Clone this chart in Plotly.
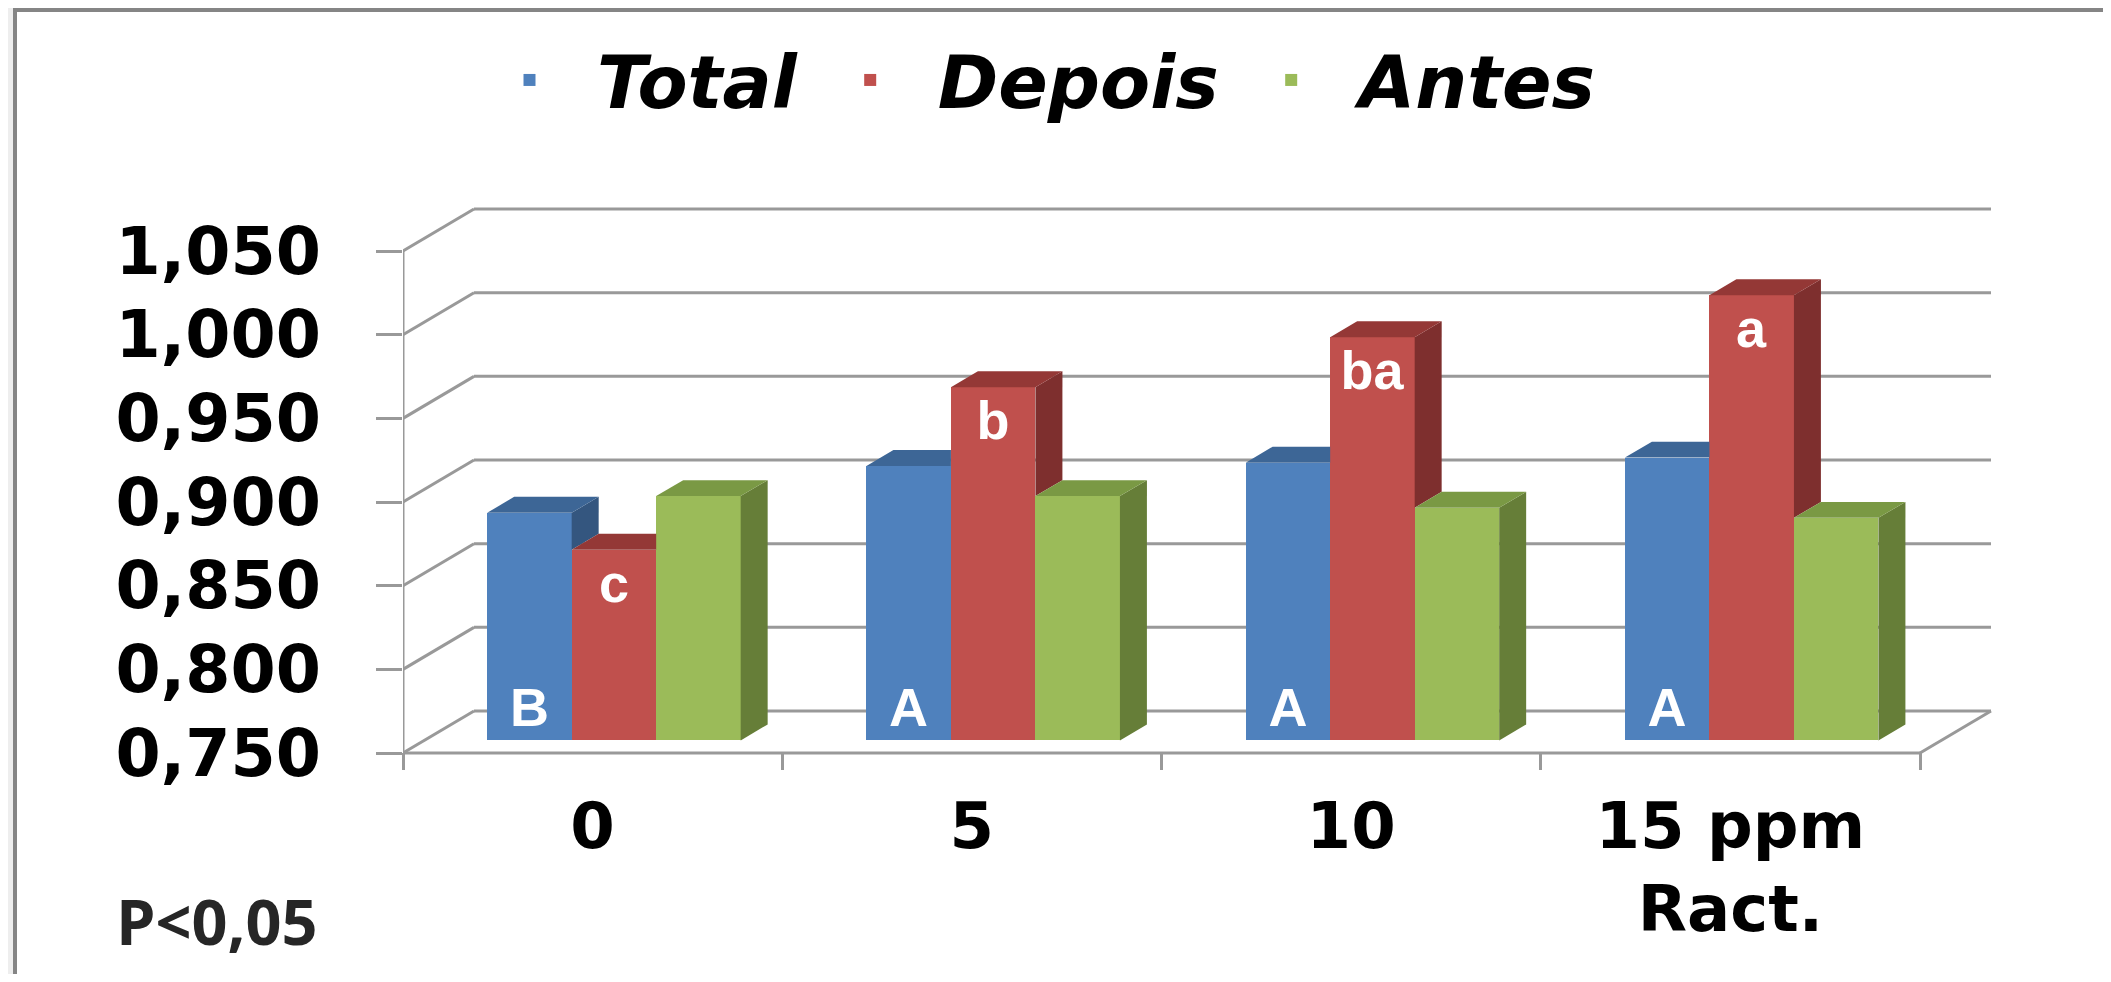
import plotly.graph_objects as go

# data (value of each bar on its front face)
categories = ['0', '5', '10', '15 ppm<br>Ract.']
series_names = ['Total', 'Depois', 'Antes']
total = [0.886, 0.914, 0.916, 0.919]
depois = [0.864, 0.961, 0.991, 1.016]
antes = [0.896, 0.896, 0.889, 0.883]
total_letters = ['B', 'A', 'A', 'A']
depois_letters = ['c', 'b', 'ba', 'a']
y_ticks = [0.75, 0.80, 0.85, 0.90, 0.95, 1.00, 1.05]
y_ticktext = ['0,750', '0,800', '0,850', '0,900', '0,950', '1,000', '1,050']

front_colors = ['#4F81BD', '#C0504D', '#9BBB59']
top_colors = ['#3D6696', '#943836', '#7A9944']
side_colors = ['#34567F', '#7E2F2E', '#667E38']
grid_color = '#999999'
font = 'DejaVu Sans'

# geometry in page pixels; the html body adds an 8px margin around the figure
W, H = 2111, 982
OFF = 8
plot_left, plot_right, plot_top, plot_bottom = 403, 2000, 200, 770
fig_w, fig_h = W - 2 * OFF, H - 2 * OFF
L = plot_left - OFF
T = plot_top - OFF
R = OFF + fig_w - plot_right
B = OFF + fig_h - plot_bottom
px_x = 379.25      # px per category
px_y = 1673.3      # px per value unit

n = len(categories)
series = [total, depois, antes]
y0 = y_ticks[0]
ymin = y0 - 17 / px_y
x_range = [-0.5, -0.5 + (plot_right - plot_left) / px_x]
y_range = [ymin, ymin + (plot_bottom - plot_top) / px_y]

# oblique "3d" depth offsets
dX = 71 / px_x
dY = 42 / px_y
f = 0.3            # depth of bar front face (fraction of floor depth)
bd = 0.38          # bar depth (fraction of floor depth)
ddx, ddy = bd * dX, bd * dY
bw = 84.5 / px_x   # bar width
base0 = y0 + f * dY
x_end = n - 0.5


def px2paper_x(p):
    return (p - plot_left) / (plot_right - plot_left)


def px2paper_y(p):
    return (plot_bottom - p) / (plot_bottom - plot_top)


fig = go.Figure()

# front faces: real bars
for k, (name, vals) in enumerate(zip(series_names, series)):
    if k == 0:
        txt, anchor = total_letters, 'start'
    elif k == 1:
        txt, anchor = depois_letters, 'end'
    else:
        txt, anchor = None, 'end'
    fig.add_trace(go.Bar(
        x=[i + f * dX + (k - 1) * bw for i in range(n)],
        y=[v - y0 for v in vals],
        base=base0,
        width=bw,
        name=name,
        marker=dict(color=front_colors[k], line=dict(width=0)),
        text=txt,
        textposition='inside',
        insidetextanchor=anchor,
        textangle=0,
        textfont=dict(family='Liberation Sans', size=54, color='white', weight='bold'),
        hovertemplate=name + ': %{customdata:.3f}<extra></extra>',
        customdata=vals,
    ))


def face(xs, ys, color):
    fig.add_trace(go.Scatter(
        x=xs + [xs[0]], y=ys + [ys[0]], mode='lines', fill='toself',
        fillcolor=color, line=dict(width=0, color=color),
        hoverinfo='skip', showlegend=False))


# side and top faces, clipped where the next bar hides them
for i in range(n):
    c = i + f * dX
    for k in range(3):
        xl = c + (k - 1.5) * bw
        xr = xl + bw
        tk = series[k][i] + f * dY
        tn = series[k + 1][i] + f * dY if k < 2 else None
        # right side face
        if tn is None:
            face([xr, xr + ddx, xr + ddx, xr], [base0, base0 + ddy, tk + ddy, tk], side_colors[k])
        elif tk > tn:
            face([xr, xr + ddx, xr + ddx, xr], [tn, tn + ddy, tk + ddy, tk], side_colors[k])
        # top face
        if tn is not None and tn > tk:
            tc = min(tn, tk + ddy)
            face([xl, xr, xr, xr + (tc - tk) * ddx / ddy, xr + ddx, xl + ddx],
                 [tk, tk, tc, tc, tk + ddy, tk + ddy], top_colors[k])
        else:
            face([xl, xr, xr + ddx, xl + ddx], [tk, tk, tk + ddy, tk + ddy], top_colors[k])

# card frame (left strip + borders)
shapes = [
    dict(type='rect', xref='paper', yref='paper', layer='below',
         x0=px2paper_x(OFF), x1=px2paper_x(13), y0=px2paper_y(H), y1=px2paper_y(OFF),
         fillcolor='#eeeeee', line=dict(width=0)),
    dict(type='line', xref='paper', yref='paper', layer='below',
         x0=px2paper_x(15), x1=px2paper_x(15), y0=px2paper_y(H), y1=px2paper_y(OFF + 1),
         line=dict(color='#858585', width=4)),
    dict(type='line', xref='paper', yref='paper', layer='below',
         x0=px2paper_x(13), x1=px2paper_x(W), y0=px2paper_y(OFF + 2), y1=px2paper_y(OFF + 2),
         line=dict(color='#858585', width=4)),
]
# walls and floor, drawn below the bars
wall = dict(type='line', xref='x', yref='y', layer='below', line=dict(color=grid_color, width=3))
for v in y_ticks:
    shapes.append(dict(wall, x0=-0.5 + dX, x1=x_end + dX, y0=v + dY, y1=v + dY))
    shapes.append(dict(wall, x0=-0.5, x1=-0.5 + dX, y0=v, y1=v + dY))
shapes.append(dict(wall, x0=-0.5, x1=x_end, y0=y0, y1=y0))
shapes.append(dict(wall, x0=x_end, x1=x_end + dX, y0=y0, y1=y0 + dY))
shapes.append(dict(wall, x0=-0.5, x1=-0.5, y0=ymin, y1=y_ticks[-1]))

fig.update_layout(
    width=fig_w, height=fig_h,
    margin=dict(l=L, r=R, t=T, b=B, pad=0, autoexpand=False),
    paper_bgcolor='white',
    plot_bgcolor='rgba(0,0,0,0)',
    barmode='overlay',
    bargap=0,
    shapes=shapes,
    showlegend=True,
    legend=dict(
        orientation='h',
        x=px2paper_x(462), xanchor='left',
        y=px2paper_y(80), yanchor='middle',
        font=dict(family=font, size=73, color='black', weight='bold', style='italic'),
        itemwidth=125,
        bgcolor='rgba(0,0,0,0)',
    ),
    xaxis=dict(
        range=x_range, showgrid=False, zeroline=False, showline=False,
        tickmode='array', tickvals=list(range(n)), ticktext=categories, ticks='',
        tickfont=dict(family=font, size=64, color='black', weight='bold'),
        ticklabelstandoff=13,
        minor=dict(ticks='inside', tickmode='array', tickvals=[i - 0.5 for i in range(n + 1)],
                   ticklen=17, tickwidth=3, tickcolor=grid_color, showgrid=False),
        fixedrange=True,
    ),
    yaxis=dict(
        range=y_range, showgrid=False, zeroline=False, showline=False,
        tickmode='array', tickvals=y_ticks, ticktext=y_ticktext,
        ticks='outside', ticklen=26, tickwidth=3, tickcolor=grid_color,
        tickfont=dict(family=font, size=65, color='black', weight='bold'),
        ticklabelstandoff=42,
        fixedrange=True,
    ),
    annotations=[dict(
        text='P<0,05', xref='paper', yref='paper',
        x=px2paper_x(217), y=px2paper_y(920), xanchor='center', yanchor='middle',
        showarrow=False, font=dict(family='Open Sans', size=63, color='#262626', weight='bold'),
    )],
)

fig.write_html("out.html")
